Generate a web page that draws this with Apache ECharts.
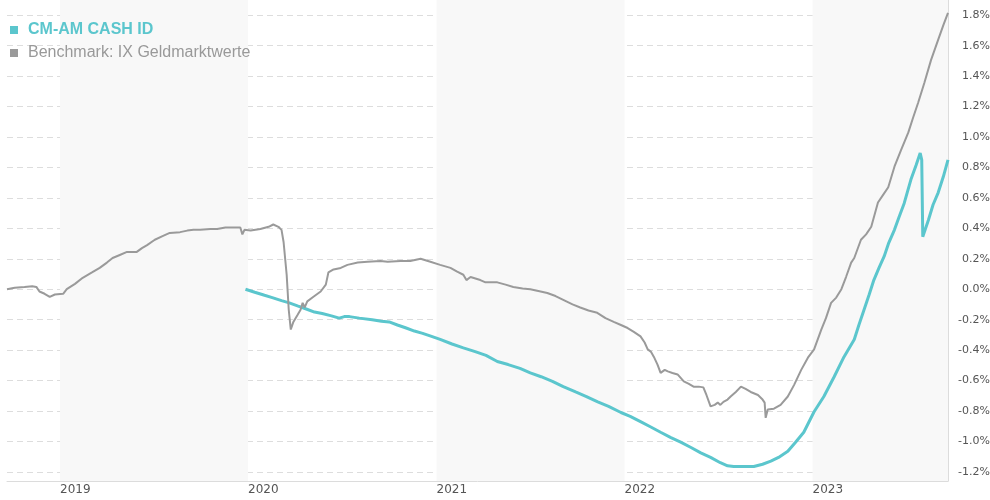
<!DOCTYPE html>
<html>
<head>
<meta charset="utf-8">
<script src="https://cdn.jsdelivr.net/npm/echarts@6/dist/echarts.min.js"></script>
<style>
  html, body { margin: 0; padding: 0; background: #fff; }
  #chart { width: 990px; height: 500px; }
</style>
</head>
<body>
<div id="chart"></div>
<script>
// Cumulative performance in percent
const fundName = 'CM-AM CASH ID';
const benchName = 'Benchmark: IX Geldmarktwerte';

const fundDates = [
  '2019-12-27','2020-01-14','2020-02-02','2020-02-17','2020-03-06','2020-03-21','2020-04-06','2020-04-23',
  '2020-05-09','2020-05-24','2020-06-11','2020-06-26','2020-07-06','2020-07-16','2020-08-04','2020-08-29',
  '2020-09-16','2020-10-01','2020-10-17','2020-11-03','2020-11-19','2020-12-05','2020-12-18','2021-01-08',
  '2021-01-31','2021-02-22','2021-03-17','2021-04-07','2021-04-29','2021-05-20','2021-06-12','2021-07-02',
  '2021-07-23','2021-08-14','2021-09-04','2021-09-28','2021-10-19','2021-11-10','2021-12-01','2021-12-25',
  '2022-01-12','2022-02-01','2022-02-21','2022-03-12','2022-04-01','2022-04-20','2022-05-10','2022-05-29',
  '2022-06-17','2022-07-06','2022-07-20','2022-08-01','2022-08-20','2022-09-09','2022-09-26','2022-10-12',
  '2022-10-27','2022-11-14','2022-11-29','2022-12-15','2023-01-04','2023-01-23','2023-02-12','2023-03-03',
  '2023-03-23','2023-04-01','2023-04-11','2023-04-21','2023-04-30','2023-05-10','2023-05-20','2023-05-29',
  '2023-06-09','2023-06-18','2023-06-28','2023-07-11','2023-07-21','2023-07-29','2023-08-01','2023-08-03',
  '2023-08-14','2023-08-23','2023-09-02','2023-09-12','2023-09-21'
];
const fundValues = [
  0.00,-0.02,-0.04,-0.055,-0.075,-0.09,-0.11,-0.13,
  -0.15,-0.16,-0.175,-0.19,-0.18,-0.18,-0.19,-0.20,
  -0.21,-0.215,-0.235,-0.255,-0.275,-0.29,-0.305,-0.33,
  -0.36,-0.385,-0.41,-0.435,-0.475,-0.495,-0.52,-0.55,
  -0.575,-0.605,-0.64,-0.675,-0.705,-0.74,-0.77,-0.81,
  -0.835,-0.87,-0.905,-0.94,-0.975,-1.005,-1.04,-1.075,
  -1.105,-1.14,-1.16,-1.165,-1.165,-1.165,-1.15,-1.13,
  -1.105,-1.065,-1.005,-0.94,-0.805,-0.705,-0.575,-0.445,
  -0.33,-0.235,-0.135,-0.035,0.06,0.14,0.215,0.305,
  0.39,0.475,0.565,0.72,0.815,0.895,0.85,0.345,
  0.455,0.555,0.635,0.74,0.85
];

const benchDates = [
  '2018-09-20','2018-10-05','2018-10-24','2018-11-08','2018-11-16','2018-11-22','2018-12-02','2018-12-12',
  '2018-12-22','2019-01-07','2019-01-14','2019-01-30','2019-02-14','2019-03-04','2019-03-19','2019-04-02',
  '2019-04-13','2019-04-27','2019-05-11','2019-05-30','2019-06-09','2019-06-19','2019-07-04','2019-07-20',
  '2019-08-02','2019-08-22','2019-09-05','2019-09-17','2019-09-30','2019-10-20','2019-11-02','2019-11-18',
  '2019-12-03','2019-12-17','2019-12-21','2019-12-25','2020-01-06','2020-01-25','2020-02-10','2020-02-19',
  '2020-02-29','2020-03-06','2020-03-10','2020-03-16','2020-03-20','2020-03-24','2020-03-29','2020-04-06',
  '2020-04-12','2020-04-16','2020-04-20','2020-04-25','2020-05-07','2020-05-21','2020-05-31','2020-06-05',
  '2020-06-15','2020-06-29','2020-07-12','2020-08-01','2020-08-20','2020-09-14','2020-09-28','2020-10-23',
  '2020-11-11','2020-12-01','2020-12-20','2021-01-08','2021-01-28','2021-02-10','2021-02-22','2021-02-28',
  '2021-03-08','2021-03-27','2021-04-06','2021-04-29','2021-05-15','2021-05-30','2021-06-17','2021-07-02',
  '2021-07-22','2021-08-04','2021-08-20','2021-09-04','2021-09-22','2021-10-07','2021-10-23','2021-11-09',
  '2021-11-25','2021-12-11','2021-12-25','2022-01-07','2022-01-19','2022-02-01','2022-02-09','2022-02-15',
  '2022-02-21','2022-02-27','2022-03-06','2022-03-12','2022-03-20','2022-03-26','2022-04-04','2022-04-14',
  '2022-04-26','2022-05-05','2022-05-15','2022-05-25','2022-06-03','2022-06-09','2022-06-17','2022-06-25',
  '2022-07-01','2022-07-06','2022-07-12','2022-07-20','2022-07-26','2022-08-05','2022-08-15','2022-08-24',
  '2022-09-03','2022-09-17','2022-09-26','2022-09-30','2022-10-02','2022-10-06','2022-10-18','2022-10-31',
  '2022-11-14','2022-11-26','2022-12-10','2022-12-23','2023-01-04','2023-01-18','2023-01-27','2023-02-06',
  '2023-02-16','2023-02-26','2023-03-07','2023-03-17','2023-03-23','2023-04-05','2023-04-15','2023-04-25',
  '2023-05-08','2023-05-18','2023-05-28','2023-06-09','2023-06-22','2023-07-06','2023-07-15','2023-07-25',
  '2023-08-06','2023-08-19','2023-09-02','2023-09-12','2023-09-21'
];
const benchValues = [
  0.00,0.01,0.015,0.02,0.015,-0.015,-0.03,-0.05,
  -0.035,-0.03,0.00,0.035,0.075,0.11,0.14,0.175,
  0.205,0.225,0.245,0.245,0.27,0.29,0.325,0.35,
  0.37,0.375,0.385,0.39,0.39,0.395,0.395,0.405,
  0.405,0.405,0.36,0.39,0.385,0.395,0.41,0.425,
  0.41,0.39,0.31,0.095,-0.135,-0.265,-0.215,-0.17,
  -0.135,-0.09,-0.12,-0.08,-0.05,-0.015,0.03,0.11,
  0.13,0.14,0.16,0.175,0.18,0.185,0.18,0.185,
  0.185,0.20,0.18,0.16,0.14,0.115,0.095,0.06,
  0.08,0.06,0.045,0.045,0.03,0.015,0.005,0.00,
  -0.015,-0.025,-0.045,-0.07,-0.10,-0.12,-0.14,-0.155,
  -0.19,-0.215,-0.235,-0.255,-0.28,-0.31,-0.35,-0.395,
  -0.41,-0.445,-0.495,-0.55,-0.53,-0.54,-0.55,-0.56,
  -0.605,-0.62,-0.64,-0.64,-0.645,-0.695,-0.77,-0.76,
  -0.745,-0.76,-0.74,-0.725,-0.705,-0.675,-0.64,-0.655,
  -0.675,-0.695,-0.725,-0.745,-0.845,-0.79,-0.785,-0.76,
  -0.705,-0.63,-0.53,-0.45,-0.395,-0.265,-0.19,-0.09,
  -0.055,0.00,0.08,0.175,0.205,0.325,0.36,0.41,
  0.57,0.62,0.67,0.805,0.915,1.03,1.125,1.225,
  1.355,1.505,1.64,1.735,1.815
];

// Axis ticks
const yearTicks = ['2019-01-01','2020-01-01','2021-01-01','2022-01-01','2023-01-01'];
const yTicks = [-1.2,-1.0,-0.8,-0.6,-0.4,-0.2,0.0,0.2,0.4,0.6,0.8,1.0,1.2,1.4,1.6,1.8];
// Shaded calendar years
const shadedYears = [['2019-01-01','2020-01-01'],['2021-01-01','2022-01-01'],['2023-01-01','2023-09-21']];

const fundColor = '#5bc6cd';
const benchColor = '#9a9a9a';

const ts = d => Date.parse(d + 'T00:00:00Z');

const chart = echarts.init(document.getElementById('chart'), null, { renderer: 'canvas' });

const option = {
  animation: false,
  backgroundColor: '#ffffff',
  grid: { left: 7, right: 42, top: 0, bottom: 19, containLabel: false, outerBoundsMode: 'none' },
  legend: {
    left: 5,
    top: 17,
    orient: 'vertical',
    icon: 'rect',
    itemWidth: 8,
    itemHeight: 8,
    itemGap: 7,
    selectedMode: false,
    textStyle: { fontFamily: 'Liberation Sans', fontSize: 16, lineHeight: 16, padding: [0, 0, 0, 5] },
    data: [
      { name: fundName, textStyle: { color: fundColor, fontWeight: 'bold' } },
      { name: benchName, textStyle: { color: '#999999' } }
    ]
  },
  xAxis: {
    type: 'value',
    min: ts('2018-09-20'),
    max: ts('2023-09-21'),
    axisLine: { show: true, onZero: false, lineStyle: { color: '#dcdcdc', width: 1 } },
    axisTick: { show: false },
    splitLine: { show: false },
    axisLabel: {
      customValues: yearTicks.map(ts),
      formatter: v => String(new Date(v).getUTCFullYear()),
      align: 'left',
      margin: 3,
      color: '#555555',
      fontFamily: 'DejaVu Sans',
      fontSize: 12
    }
  },
  yAxis: {
    type: 'value',
    position: 'right',
    min: -1.26,
    max: 1.9,
    axisLine: { show: true, lineStyle: { color: '#dcdcdc', width: 1 } },
    axisTick: { show: false, customValues: yTicks },
    splitLine: { show: true, lineStyle: { color: '#dddddd', type: [6, 4], width: 1 } },
    axisLabel: {
      customValues: yTicks,
      formatter: v => v.toFixed(1) + '%',
      align: 'right',
      margin: 42,
      color: '#555555',
      fontFamily: 'DejaVu Sans',
      fontSize: 11
    }
  },
  series: [
    {
      name: fundName,
      type: 'line',
      data: fundDates.map((d, i) => [ts(d), fundValues[i]]),
      showSymbol: false,
      symbol: 'none',
      color: fundColor,
      lineStyle: { color: fundColor, width: 3 },
      z: 3,
      markArea: {
        silent: true,
        itemStyle: { color: '#f8f8f8' },
        data: shadedYears.map(([a, b]) => [{ xAxis: ts(a) }, { xAxis: ts(b) }])
      }
    },
    {
      name: benchName,
      type: 'line',
      data: benchDates.map((d, i) => [ts(d), benchValues[i]]),
      showSymbol: false,
      symbol: 'none',
      color: benchColor,
      lineStyle: { color: benchColor, width: 2 },
      z: 4
    }
  ]
};

chart.setOption(option);
</script>
</body>
</html>
